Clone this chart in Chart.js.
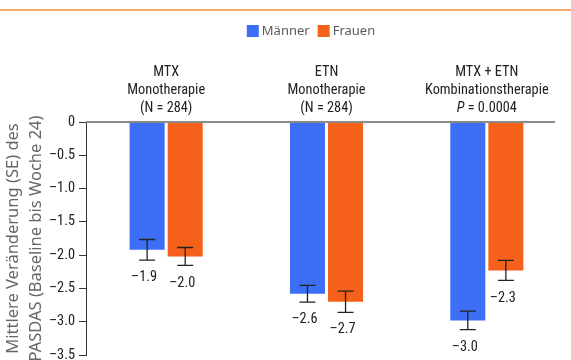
<!DOCTYPE html>
<html>
<head>
<meta charset="utf-8">
<script src="https://cdn.jsdelivr.net/npm/chart.js@4/dist/chart.umd.min.js"></script>
<style>
  html, body { margin: 0; padding: 0; background: #fff; }
  #wrap { width: 571px; height: 360px; position: relative; }
</style>
</head>
<body>
<div id="wrap"><canvas id="c" width="571" height="360"></canvas></div>
<script>
// ---- data ----
const categories = ['MTX', 'ETN', 'MTX + ETN'];
const headerLines = [
  ['MTX', 'Monotherapie', '(N = 284)'],
  ['ETN', 'Monotherapie', '(N = 284)'],
  ['MTX + ETN', 'Kombinationstherapie', 'P = 0.0004']
];
const seriesNames = ['Männer', 'Frauen'];
const maennerValues = [-1.92, -2.58, -2.98];
const frauenValues = [-2.02, -2.70, -2.23];
const maennerSE = [0.155, 0.125, 0.14];
const frauenSE = [0.135, 0.16, 0.15];
const maennerLabels = ['–1.9', '–2.6', '–3.0'];
const frauenLabels = ['–2.0', '–2.7', '–2.3'];
const yTitle = ['Mittlere Veränderung (SE) des', 'PASDAS (Baseline bis Woche 24)'];

const BLUE = '#3d6ff6';
const ORANGE = '#f5601a';
const COND = "'Liberation Sans Narrow', 'Arial Narrow', 'Roboto Condensed', 'Liberation Sans', sans-serif";
const ROUND = "'Noto Sans', 'Open Sans', sans-serif";
const FS = 14.3;

const seList = [maennerSE, frauenSE];
const labelList = [maennerLabels, frauenLabels];

const decor = {
  id: 'decor',
  afterDatasetsDraw(chart) {
    const ctx = chart.ctx;
    const area = chart.chartArea;
    const y = chart.scales.y;
    const x = chart.scales.x;
    ctx.save();
    // top orange rule
    ctx.strokeStyle = '#f7a864';
    ctx.lineWidth = 2;
    ctx.beginPath(); ctx.moveTo(0, 10); ctx.lineTo(chart.width, 10); ctx.stroke();

    // legend
    ctx.font = '13px ' + ROUND;
    ctx.textBaseline = 'middle';
    ctx.textAlign = 'left';
    const box = 12, gapTxt = 3, gapItem = 8, legY = 31;
    const widths = seriesNames.map(n => ctx.measureText(n).width);
    const total = widths.reduce((a, w) => a + box + gapTxt + w, 0) + gapItem;
    let lx = 311 - total / 2;
    chart.data.datasets.forEach((ds, i) => {
      ctx.fillStyle = ds.backgroundColor;
      ctx.fillRect(lx, legY - box / 2, box, box);
      lx += box + gapTxt;
      ctx.fillStyle = '#5a5a5a';
      ctx.fillText(ds.label, lx, legY + 0.5);
      lx += widths[i] + gapItem;
    });

    // zero line
    ctx.strokeStyle = '#8a8a8a';
    ctx.lineWidth = 2;
    const y0 = y.getPixelForValue(0);
    ctx.beginPath(); ctx.moveTo(area.left, y0); ctx.lineTo(area.right - 12, y0); ctx.stroke();

    // headers
    ctx.fillStyle = '#222';
    ctx.textAlign = 'center';
    ctx.textBaseline = 'middle';
    headerLines.forEach((lines, i) => {
      const cx = x.getPixelForValue(i);
      lines.forEach((t, j) => {
        const ty = area.top - 50 + j * 18;
        if (t.startsWith('P ')) {
          const rest = t.slice(1);
          ctx.font = 'italic ' + FS + 'px ' + COND;
          const wp = ctx.measureText('P').width;
          ctx.font = FS + 'px ' + COND;
          const wr = ctx.measureText(rest).width;
          const sx = cx - (wp + wr) / 2;
          ctx.textAlign = 'left';
          ctx.font = 'italic ' + FS + 'px ' + COND;
          ctx.fillText('P', sx, ty);
          ctx.font = FS + 'px ' + COND;
          ctx.fillText(rest, sx + wp, ty);
          ctx.textAlign = 'center';
        } else {
          ctx.font = FS + 'px ' + COND;
          ctx.fillText(t, cx, ty);
        }
      });
    });

    // error bars + value labels
    chart.data.datasets.forEach((ds, di) => {
      const meta = chart.getDatasetMeta(di);
      meta.data.forEach((bar, i) => {
        const v = ds.data[i];
        const se = seList[di][i];
        const yt = y.getPixelForValue(v + se);
        const yb = y.getPixelForValue(v - se);
        const bx = bar.x;
        ctx.strokeStyle = '#222';
        ctx.lineWidth = 1.3;
        ctx.beginPath();
        ctx.moveTo(bx, yt); ctx.lineTo(bx, yb);
        ctx.moveTo(bx - 8, yt); ctx.lineTo(bx + 8, yt);
        ctx.moveTo(bx - 8, yb); ctx.lineTo(bx + 8, yb);
        ctx.stroke();
        ctx.fillStyle = '#222';
        ctx.font = FS + 'px ' + COND;
        ctx.textAlign = 'center';
        ctx.textBaseline = 'middle';
        ctx.fillText(labelList[di][i], bx - 3, yb + 17.5);
      });
    });
    ctx.restore();
  }
};

new Chart(document.getElementById('c'), {
  type: 'bar',
  data: {
    labels: categories,
    datasets: [
      { label: seriesNames[0], data: maennerValues, backgroundColor: BLUE },
      { label: seriesNames[1], data: frauenValues, backgroundColor: ORANGE }
    ]
  },
  options: {
    responsive: false,
    animation: false,
    devicePixelRatio: 1,
    layout: { padding: { top: 122, bottom: 5, right: 4, left: 0 } },
    datasets: { bar: { categoryPercentage: 0.475, barPercentage: 0.92 } },
    plugins: { legend: { display: false }, tooltip: { enabled: false } },
    scales: {
      x: { display: false },
      y: {
        min: -3.5, max: 0,
        afterFit: s => { s.width = 86; s.paddingTop = 0; s.paddingBottom = 0; },
        ticks: {
          stepSize: 0.5,
          color: '#222',
          padding: 4,
          font: { family: COND, size: FS },
          callback: v => v === 0 ? '0' : '–' + Math.abs(v).toFixed(1)
        },
        grid: { drawOnChartArea: false, drawTicks: true, tickLength: 7, color: '#333' },
        border: { display: true, color: '#333', width: 1 },
        title: {
          display: true,
          text: yTitle,
          color: '#666',
          padding: { top: 2, bottom: 2 },
          font: { family: ROUND, size: 16.5, lineHeight: 1.38 }
        }
      }
    }
  },
  plugins: [decor]
});
</script>
</body>
</html>
